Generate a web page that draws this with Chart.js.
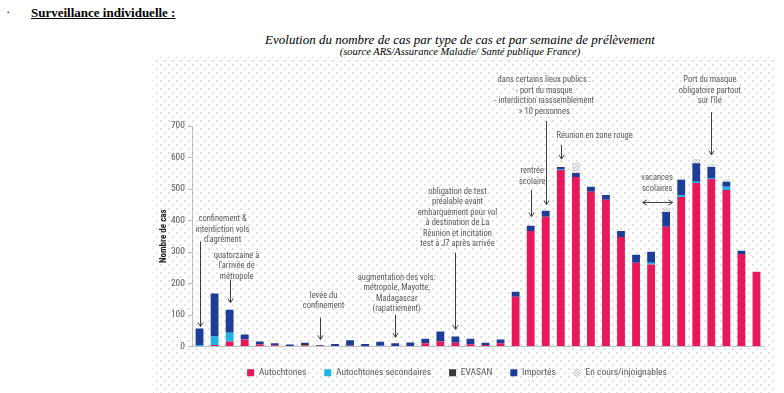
<!DOCTYPE html>
<html>
<head>
<meta charset="utf-8">
<script src="https://cdn.jsdelivr.net/npm/chart.js@4.4.0/dist/chart.umd.min.js"></script>
<style>
  body { margin: 0; width: 784px; height: 393px; background: #fff; position: relative; overflow: hidden; }
  .dots {
    position: absolute; left: 153px; top: 57px; width: 622px; height: 336px;
    background-image: radial-gradient(circle, #d6d6d6 0.6px, transparent 1px), radial-gradient(circle, #d6d6d6 0.6px, transparent 1px);
    background-size: 8px 8px; background-position: 0 0, 4px 4px;
  }
  .txt { position: absolute; font-family: "Liberation Serif", "Times New Roman", serif; color: #000; white-space: nowrap; }
  #bullet { left: 6px; top: 4px; font-size: 13px; }
  #head { left: 31px; top: 5px; font-size: 13px; font-weight: bold; text-decoration: underline; }
  #title { left: 260px; width: 400px; top: 32px; text-align: center; font-size: 13px; font-style: italic; }
  #sub { left: 260px; width: 400px; top: 46px; text-align: center; font-size: 10.5px; font-style: italic; }
  #wrap { position: absolute; left: 150px; top: 58px; width: 634px; height: 335px; }
</style>
</head>
<body>
<div class="dots"></div>
<div class="txt" id="bullet">·</div>
<div class="txt" id="head">Surveillance individuelle :</div>
<div class="txt" id="title">Evolution du nombre de cas par type de cas et par semaine de prélèvement</div>
<div class="txt" id="sub">(source ARS/Assurance Maladie/ Santé publique France)</div>
<div id="wrap"><canvas id="chart"></canvas></div>
<script>
// semaines 12 a 49
var weeks = ["12","13","14","15","16","17","18","19","20","21","22","23","24","25","26","27","28","29","30",
             "31","32","33","34","35","36","37","38","39","40","41","42","43","44","45","46","47","48","49"];

var autochtones = [0,5,16,22,6,4,0,3,2,0,2,1,0,0,0,10,16,12,7,5,10,158,367,412,560,538,491,466,348,266,260,380,475,519,532,497,294,237];
var secondaires = [5,27,28,0,0,0,0,0,0,0,0,0,2,0,0,0,0,0,0,0,0,0,0,0,2,0,0,0,0,0,6,0,4,4,3,10,0,0];
var evasan      = [0,0,0,0,0,0,0,5,0,0,0,0,0,0,0,0,0,0,0,0,0,0,0,0,0,0,0,0,0,0,0,0,0,0,0,0,0,0];
var importes    = [52,136,73,16,10,6,6,4,3,8,18,7,13,10,13,15,32,20,18,7,12,16,16,19,8,13,16,15,19,25,35,47,50,59,35,16,10,0];
var enCours     = [0,0,0,0,0,0,0,0,0,0,0,0,0,0,0,0,0,0,0,0,0,0,0,0,0,32,0,0,0,0,0,14,4,13,10,8,0,0];

var yTicks = [0,100,200,300,400,500,600,700];

// annotations : x en index de categorie, y en nombre de cas
var notes = [
  { x: 1.53, y: 405, lines: ["confinement &", "interdiction vols", "d'agrément"], arrow: [0, 333, 63] },
  { x: 2.46, y: 288, lines: ["quatorzaine à", "l'arrivée de", "métropole"], arrow: [2, 212, 139] },
  { x: 8.24, y: 162, lines: ["levée du", "confinement"], arrow: [8, 92, 22] },
  { x: 13.1, y: 219, lines: ["augmentation des vols:", "métropole, Mayotte,", "Madagascar", "(rapatriement)"], arrow: [13, 101, 29] },
  { x: 17.14, y: 491, lines: ["obligation de test", "préalable avant", "embarquement pour vol", "à destination de La", "Réunion et incitation", "test à J7 après arrivée"], arrow: [17, 298, 54] },
  { x: 22.1, y: 557, lines: ["rentrée", "scolaire"], arrow: [22, 497, 412] },
  { x: 22.9, y: 846, lines: ["dans certains lieux publics :", "- port du masque", "- interdiction rasssemblement", "> 10 personnes"], arrow: [23, 716, 450] },
  { x: 26.25, y: 668, lines: ["Réunion en zone rouge"], arrow: [24, 640, 595] },
  { x: 33.9, y: 846, lines: ["Port du masque", "obligatoire partout", "sur l'île"], arrow: [34, 744, 608] },
  { x: 30.4, y: 535, lines: ["vacances", "scolaires"], both: [29.44, 31.43, 459] }
];

var grey = "#595959";
var textFont = '"Liberation Sans Narrow", "Roboto Condensed", "Liberation Sans", sans-serif';

function dotPattern() {
  var c = document.createElement("canvas");
  c.width = 3; c.height = 3;
  var g = c.getContext("2d");
  g.fillStyle = "#f2f2f2";
  g.fillRect(0, 0, 3, 3);
  g.fillStyle = "#bdbdbd";
  g.fillRect(0, 0, 1, 1);
  g.fillRect(2, 1, 1, 1);
  g.fillRect(1, 2, 1, 1);
  return g.createPattern(c, "repeat");
}

function head(ctx, x, y, dx, dy) {
  // pointe ouverte
  var a = Math.atan2(dy, dx);
  ctx.beginPath();
  ctx.moveTo(x - 5 * Math.cos(a - 0.55), y - 5 * Math.sin(a - 0.55));
  ctx.lineTo(x, y);
  ctx.lineTo(x - 5 * Math.cos(a + 0.55), y - 5 * Math.sin(a + 0.55));
  ctx.stroke();
}

var notesPlugin = {
  id: "notes",
  afterDatasetsDraw: function (chart) {
    var ctx = chart.ctx, xs = chart.scales.x, ys = chart.scales.y;
    ctx.save();
    ctx.font = "8.5px " + textFont;
    ctx.fillStyle = grey;
    ctx.textAlign = "center";
    ctx.textBaseline = "middle";
    ctx.strokeStyle = "#3f3f3f";
    ctx.lineWidth = 1;
    notes.forEach(function (n) {
      var cx = xs.getPixelForValue(n.x), cy = ys.getPixelForValue(n.y);
      n.lines.forEach(function (l, i) { ctx.fillText(l, cx, cy + i * 10.5); });
      if (n.arrow) {
        var ax = Math.round(xs.getPixelForValue(n.arrow[0])) + 0.5;
        var y1 = ys.getPixelForValue(n.arrow[1]), y2 = ys.getPixelForValue(n.arrow[2]);
        ctx.beginPath(); ctx.moveTo(ax, y1); ctx.lineTo(ax, y2); ctx.stroke();
        head(ctx, ax, y2, 0, 1);
      }
      if (n.both) {
        var x1 = xs.getPixelForValue(n.both[0]), x2 = xs.getPixelForValue(n.both[1]);
        var by = Math.round(ys.getPixelForValue(n.both[2])) + 0.5;
        ctx.beginPath(); ctx.moveTo(x1, by); ctx.lineTo(x2, by); ctx.stroke();
        head(ctx, x1, by, -1, 0);
        head(ctx, x2, by, 1, 0);
      }
    });
    ctx.restore();
  }
};

function ds(label, data, color) {
  return { label: label, data: data, backgroundColor: color, barPercentage: 0.52, categoryPercentage: 1 };
}

new Chart(document.getElementById("chart"), {
  type: "bar",
  data: {
    labels: weeks,
    datasets: [
      ds("Autochtones", autochtones, "#e8185a"),
      ds("Autochtones secondaires", secondaires, "#1fb3e6"),
      ds("EVASAN", evasan, "#383838"),
      ds("Importés", importes, "#1d3e98"),
      ds("En cours/injoignables", enCours, dotPattern())
    ]
  },
  options: {
    responsive: true,
    maintainAspectRatio: false,
    animation: false,
    layout: { padding: { top: 68, right: 20, bottom: 5.5, left: 0 } },
    plugins: {
      title: { display: false },
      tooltip: { enabled: false },
      legend: {
        position: "bottom",
        labels: {
          boxWidth: 7, boxHeight: 7, padding: 18, color: grey,
          font: { family: textFont, size: 9.5 }
        }
      }
    },
    scales: {
      x: {
        stacked: true,
        grid: { display: false },
        border: { color: "#bfbfbf" },
        ticks: { color: grey, font: { family: textFont, size: 9.5 }, padding: 2, maxRotation: 0, autoSkip: false },
        afterFit: function (s) { s.height = 3.5; }
      },
      y: {
        stacked: true,
        min: 0, max: 700,
        afterBuildTicks: function (s) { s.ticks = yTicks.map(function (v) { return { value: v }; }); },
        grid: { drawOnChartArea: false, drawTicks: true, tickLength: 4, color: "#bfbfbf" },
        border: { color: "#bfbfbf" },
        ticks: { color: grey, font: { family: textFont, size: 9.5 }, padding: 3 },
        title: { display: true, text: "Nombre de cas", color: "#222", font: { family: textFont, size: 9, weight: "bold" }, padding: { top: 8, bottom: 0 } },
        afterFit: function (s) { s.width = 42; }
      }
    }
  },
  plugins: [notesPlugin]
});
</script>
</body>
</html>
